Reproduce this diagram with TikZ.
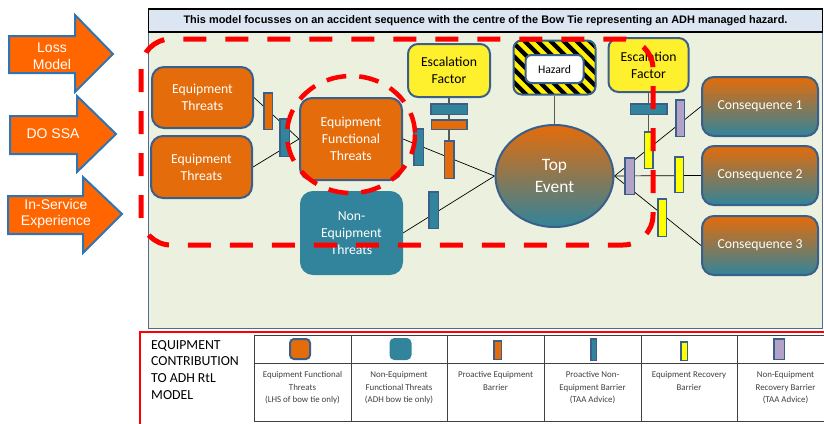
\documentclass[tikz,border=0pt]{standalone}
\usepackage{fontspec}
\setmainfont{Carlito}
\newfontfamily\arialfont{Liberation Sans}
\usetikzlibrary{shapes.geometric}

\definecolor{orgF}{HTML}{E46C0A}
\definecolor{tealF}{HTML}{31849B}
\definecolor{mauve}{HTML}{A8787A}
\definecolor{bdr}{HTML}{3A5F8B}
\definecolor{escY}{HTML}{FFF02E}
\definecolor{barY}{HTML}{FFFF00}
\definecolor{purp}{HTML}{B3A2C7}
\definecolor{panelF}{HTML}{EBF1DE}
\definecolor{panelB}{HTML}{4F6B95}
\definecolor{hdrF}{HTML}{DCE6F2}
\definecolor{arrF}{HTML}{FF6600}
\definecolor{arrB}{HTML}{2E75B6}
\definecolor{hazY}{HTML}{FFEF00}
\definecolor{wireG}{HTML}{595959}
\definecolor{legT}{HTML}{404040}

\newcommand\bxfont{\fontsize{13.7}{16.7}\selectfont}
\pgfdeclarelayer{back}
\pgfdeclarelayer{wires}
\pgfsetlayers{back,wires,main}

\tikzset{
  sz/.style 2 args={minimum width=#1pt, minimum height=#2pt, inner sep=0pt},
  box/.style={draw=bdr, line width=2pt, rounded corners=12pt, font=\bxfont, text=white, align=center},
  thr/.style={box, fill=orgF},
  nthr/.style={box, draw=tealF, fill=tealF},
  esc/.style={box, fill=escY, text=black, rounded corners=10pt},
  cons/.style={box, top color=orgF, middle color=mauve, bottom color=tealF},
  bar/.style={draw=bdr, line width=1.5pt, inner sep=0pt},
  obar/.style={bar, fill=orgF},
  tbar/.style={bar, fill=tealF},
  ybar/.style={bar, fill=barY},
  pbar/.style={bar, fill=purp},
  wire/.style={line width=0.7pt, black},
  gwire/.style={line width=1.2pt, wireG},
  feed/.style={fill=arrF, draw=arrB, line width=2pt, line join=miter},
  feedtxt/.style={font=\arialfont\fontsize{14}{16.7}\selectfont, text=white, align=center, inner sep=0pt},
  riskline/.style={red, line width=5pt, dash pattern=on 23pt off 19pt},
  legtxt/.style={font=\fontsize{8.9}{12.5}\selectfont, text=legT, align=center, inner sep=0pt, anchor=north},
  keygrid/.style={legT, line width=0.9pt}
}

\begin{document}
\begin{tikzpicture}[x=1pt,y=-1pt]

\useasboundingbox (0,0) rectangle (824,423);

% feeding inputs
\draw[feed] (9,36) -- (75,36) -- (75,15) -- (113,54) -- (75,92) -- (75,73) -- (9,73) -- cycle;
\node[feedtxt] (loss) at (52,56) {Loss\\Model};
\draw[feed] (10,116) -- (77,116) -- (77,96) -- (116,134) -- (77,172) -- (77,154) -- (10,154) -- cycle;
\node[feedtxt] (dossa) at (53,134) {DO SSA};
\draw[feed] (8,196) -- (83,196) -- (83,177) -- (122,214) -- (83,253) -- (83,234) -- (8,234) -- cycle;
\node[feedtxt] (ise) at (56,214) {In-Service\\Experience};

% model panel and title bar
\begin{pgfonlayer}{back}
\draw[fill=panelF, draw=panelB, line width=1pt] (148,32) rectangle (822,328);
\end{pgfonlayer}
\node[draw=black, line width=1.5pt, fill=hdrF, sz={674}{23},
      font=\arialfont\bfseries\fontsize{10.95}{13}\selectfont] (hdr) at (485.5,20.5)
  {This model focusses on an accident sequence with the centre of the Bow Tie representing an ADH managed hazard.};

% threats
\node[thr, sz={101}{61}] (et1) at (202.5,97.5) {Equipment\\Threats};
\node[thr, sz={101}{62}] (et2) at (201.5,167) {Equipment\\Threats};
\node[thr, sz={102}{82}] (eft) at (351,139) {Equipment\\Functional\\Threats};
\node[nthr, sz={101}{82}] (net) at (351.5,233) {Non-\\Equipment\\Threats};

% escalation factors
\node[esc, sz={82}{53}] (escL) at (449,70.5) {Escalation\\Factor};
\node[esc, sz={80}{54}] (escR) at (648.5,65) {Escalation\\Factor};

% hazard
\node[draw=bdr, line width=2pt, fill=black, rounded corners=8pt, sz={82}{54},
  path picture={\foreach \k in {-7,...,8}
     \draw[hazY, line width=4.6pt] ([xshift=\k*13pt, yshift=4pt]path picture bounding box.north west) -- ++(75,75);}]
  (hz) at (554.5,67.5) {};
\node[draw=bdr, line width=2pt, fill=white, rounded corners=6pt, sz={58}{28},
      font=\fontsize{11.7}{13}\selectfont] (hzin) at (554.5,69) {Hazard};

% top event
\node[ellipse, draw=bdr, line width=2pt, top color=orgF, bottom color=tealF, sz={118}{102},
      text=white, align=center, font=\fontsize{17.4}{21.7}\selectfont] (top) at (554.5,176) {Top\\Event};

% consequences
\node[cons, sz={116}{59}] (c1) at (760,106.5) {Consequence 1};
\node[cons, sz={116}{59}] (c2) at (760,175.5) {Consequence 2};
\node[cons, sz={116}{59}] (c3) at (760,245.5) {Consequence 3};

% barriers
\node[obar, sz={8.5}{36.5}] (b1) at (268,111) {};
\node[tbar, sz={9.5}{37.5}] (b2) at (284.5,137.5) {};
\node[tbar, sz={9.5}{36.5}] (b3) at (418.5,147) {};
\node[obar, sz={9.5}{37.5}] (b4) at (449,159.5) {};
\node[tbar, sz={36.5}{10.5}] (b5) at (449,109) {};
\node[obar, sz={35.5}{9.5}] (b6) at (449,124.5) {};
\node[tbar, sz={9.5}{36.5}] (b7) at (433.5,210) {};
\node[pbar, sz={9.5}{36.5}] (r1) at (629.5,176) {};
\node[ybar, sz={8.5}{36.5}] (r2) at (648.5,150) {};
\node[tbar, sz={36.5}{10.5}] (r3) at (648.5,109) {};
\node[pbar, sz={8.5}{36.5}] (r4) at (680,118) {};
\node[ybar, sz={8.5}{35.5}] (r5) at (679,174.5) {};
\node[ybar, sz={8.5}{37.5}] (r6) at (662,217.5) {};

% connectors
\begin{pgfonlayer}{wires}
\draw[wire] (et1.east) -- (eft.west);
\draw[wire] (et2.east) -- (eft.west);
\draw[wire] (eft.east) -- (top.west);
\draw[wire] (net.east) -- (top.west);
\draw[wire] (top.east) -- (c1.west);
\draw[wire] (top.east) -- (c2.west);
\draw[wire] (top.east) -- (c3.west);
\draw[gwire] (hz.south) -- (top.north);
\draw[gwire] (escL.south) -- (b4.north);
\draw[gwire] (escR.south) -- (r2.north);
\end{pgfonlayer}

% scope of the equipment contribution
\draw[riskline, rounded corners=30pt] (141,39) rectangle (653,245);
\draw[red, line width=4.5pt, dash pattern=on 20pt off 13pt] (351,134.5) ellipse [x radius=64, y radius=58.5];

% key
\draw[red, line width=2pt] (140,430) -- (140,332) -- (830,332);
\foreach \yy in {335,363,421.5} \draw[keygrid] (254,\yy) -- (830,\yy);
\foreach \xx in {254,351,447,544,641,737} \draw[keygrid] (\xx,335) -- (\xx,421.5);
\node[anchor=north west, inner sep=0pt, align=left, font=\fontsize{13.8}{16.8}\selectfont] (keyhead) at (151,340)
  {EQUIPMENT\\CONTRIBUTION\\TO ADH RtL\\MODEL};

\node[draw=bdr, line width=2pt, fill=orgF, rounded corners=4pt, sz={20}{20}] (k1) at (300,349) {};
\node[draw=tealF, line width=2pt, fill=tealF, rounded corners=4pt, sz={20}{20}] (k2) at (400.5,349) {};
\node[obar, sz={7.5}{18.5}] (k3) at (497.5,350) {};
\node[tbar, sz={5.5}{21.5}] (k4) at (593.5,349.5) {};
\node[ybar, sz={6.5}{18.5}] (k5) at (684,351) {};
\node[pbar, sz={10.5}{20.5}] (k6) at (779,349) {};

\node[legtxt] (t1) at (302.5,371.5) {Equipment Functional\\Threats\\(LHS of bow tie only)};
\node[legtxt] (t2) at (399,371.5) {Non-Equipment\\Functional Threats\\(ADH bow tie only)};
\node[legtxt] (t3) at (495.5,371.5) {Proactive Equipment\\Barrier};
\node[legtxt] (t4) at (592.5,371.5) {Proactive Non-\\Equipment Barrier\\(TAA Advice)};
\node[legtxt] (t5) at (689,371.5) {Equipment Recovery\\Barrier};
\node[legtxt] (t6) at (785.5,371.5) {Non-Equipment\\Recovery Barrier\\(TAA Advice)};
\end{tikzpicture}
\end{document}
